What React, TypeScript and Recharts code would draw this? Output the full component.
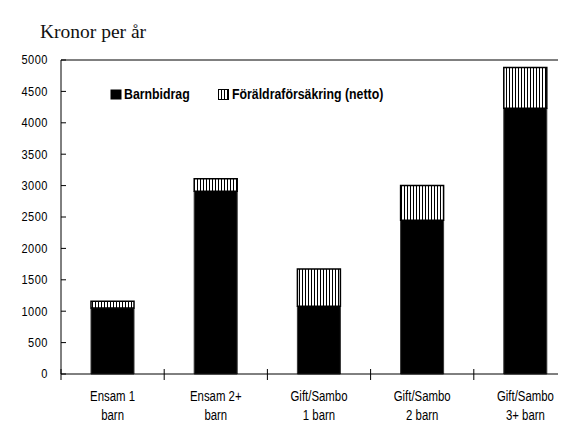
import { BarChart, Bar, XAxis, YAxis, Legend, ReferenceLine } from 'recharts';

const categories = [
  ['Ensam 1', 'barn'],
  ['Ensam 2+', 'barn'],
  ['Gift/Sambo', '1 barn'],
  ['Gift/Sambo', '2 barn'],
  ['Gift/Sambo', '3+ barn'],
];
const barnbidrag = [1050, 2910, 1080, 2450, 4230];
const foraldraforsakring = [110, 200, 590, 550, 650];
const yTicks = [0, 500, 1000, 1500, 2000, 2500, 3000, 3500, 4000, 4500, 5000];

const data = categories.map((c, i) => ({
  name: c.join(' '),
  barnbidrag: barnbidrag[i],
  foraldra: foraldraforsakring[i],
}));

const CHART_W = 580;
const CHART_H = 414;
const MARGIN = { top: 52, right: 11, bottom: 8, left: 0 };
const Y_AXIS_W = 53;
const BAND = (CHART_W - MARGIN.left - MARGIN.right - Y_AXIS_W) / categories.length;

const FONT = '"Liberation Sans", Arial, sans-serif';

// the original uses a narrow grotesque, so squeeze Liberation Sans a bit
const YTick = ({ x, y, payload }: any) => (
  <g>
    <line x1={x} x2={x + 5} y1={y} y2={y} stroke="#000" />
    <text
      transform={`translate(${x - 13},${y}) scale(0.85,1)`}
      textAnchor="end"
      dominantBaseline="central"
      fontFamily={FONT}
      fontSize={13}
      letterSpacing={0.6}
      fill="#000"
    >
      {payload.value}
    </text>
  </g>
);

const XTick = ({ x, y, index }: any) => {
  const lines = categories[index] || [];
  const bx = x - BAND / 2;
  return (
    <g>
      <line x1={bx} x2={bx} y1={y - 5} y2={y + 6} stroke="#000" />
      {lines.map((l, i) => (
        <text
          key={i}
          transform={`translate(${x},${y + 22 + i * 18.5}) scale(0.76,1)`}
          textAnchor="middle"
          dominantBaseline="central"
          fontFamily={FONT}
          fontSize={15}
          fill="#000"
        >
          {l}
        </text>
      ))}
    </g>
  );
};

const narrow = { display: 'inline-block', transform: 'scaleX(0.88)', transformOrigin: 'left center' } as const;

const LegendContent = () => (
  <div style={{ position: 'relative', height: 16, fontFamily: FONT, fontWeight: 'bold', fontSize: 14, color: '#000' }}>
    <div style={{ position: 'absolute', left: 0, top: 0, display: 'flex', alignItems: 'center', whiteSpace: 'nowrap' }}>
      <svg width={12} height={11} style={{ marginRight: 2 }}>
        <rect x={0.5} y={0.5} width={11} height={10} fill="#000" />
      </svg>
      <span style={narrow}>Barnbidrag</span>
    </div>
    <div style={{ position: 'absolute', left: 108, top: 0, display: 'flex', alignItems: 'center', whiteSpace: 'nowrap' }}>
      <svg width={12} height={11} style={{ marginRight: 2 }}>
        <rect x={0.5} y={0.5} width={10} height={10} fill="url(#hatch)" stroke="#000" />
      </svg>
      <span style={narrow}>Föräldraförsäkring (netto)</span>
    </div>
  </div>
);

export default function App() {
  return (
    <div style={{ position: 'relative', width: 558, height: CHART_H, overflow: 'hidden' }}>
      <svg width={0} height={0} style={{ position: 'absolute' }}>
        <defs>
          <pattern id="hatch" width={3} height={10} patternUnits="userSpaceOnUse">
            <rect width={3} height={10} fill="#fff" />
            <rect x={0} width={1} height={10} fill="#000" />
          </pattern>
        </defs>
      </svg>
      <div
        style={{
          position: 'absolute',
          left: 32,
          top: 14,
          fontFamily: '"Liberation Serif", "DejaVu Serif", serif',
          fontSize: 19.5,
          lineHeight: '20px',
          color: '#111',
          whiteSpace: 'nowrap',
        }}
      >
        Kronor per år
      </div>
      <BarChart width={CHART_W} height={CHART_H} data={data} margin={MARGIN}>
        <XAxis
          dataKey="name"
          height={40}
          interval={0}
          tickSize={0}
          tickMargin={0}
          tick={<XTick />}
          axisLine={{ stroke: '#000' }}
        />
        <YAxis
          width={Y_AXIS_W}
          domain={[0, 5000]}
          ticks={yTicks}
          interval={0}
          tickSize={0}
          tickMargin={0}
          tick={<YTick />}
          axisLine={{ stroke: '#000' }}
        />
        <ReferenceLine y={5000} stroke="#000" />
        <Legend
          layout="horizontal"
          verticalAlign="middle"
          align="center"
          content={<LegendContent />}
          wrapperStyle={{ top: 78, left: 102, width: 400, height: 16 }}
        />
        <Bar dataKey="barnbidrag" name="Barnbidrag" stackId="a" fill="#000" stroke="#333" barSize={43} isAnimationActive={false} />
        <Bar dataKey="foraldra" name="Föräldraförsäkring (netto)" stackId="a" fill="url(#hatch)" stroke="#000" strokeWidth={1.5} barSize={43} isAnimationActive={false} />
      </BarChart>
    </div>
  );
}
